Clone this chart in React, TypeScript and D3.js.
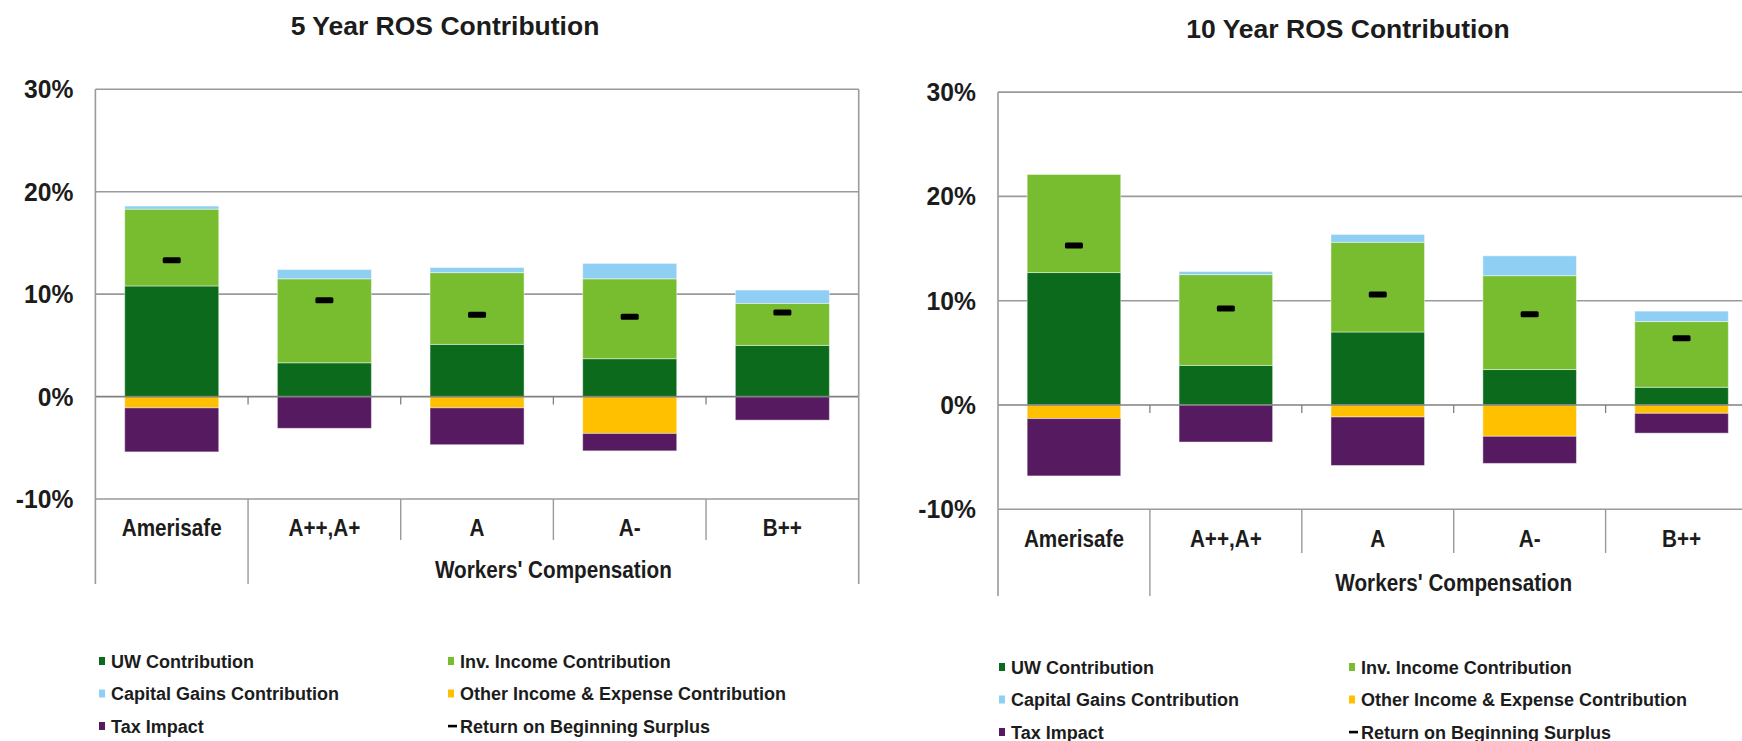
import React from "react";
import * as d3 from "d3";

const categories = ["Amerisafe", "A++,A+", "A", "A-", "B++"];

// 5 Year ROS contribution (%)
const uw5 = [10.8, 3.3, 5.1, 3.7, 5.0];
const inv5 = [7.5, 8.2, 7.0, 7.8, 4.1];
const cap5 = [0.3, 0.9, 0.5, 1.5, 1.3];
const oth5 = [-1.1, 0, -1.1, -3.6, 0];
const tax5 = [-4.3, -3.1, -3.6, -1.7, -2.3];
const ret5 = [13.3, 9.4, 8.0, 7.8, 8.2];

// 10 Year ROS contribution (%)
const uw10 = [12.7, 3.8, 7.0, 3.4, 1.7];
const inv10 = [9.4, 8.7, 8.6, 9.0, 6.3];
const cap10 = [0, 0.3, 0.75, 1.9, 1.0];
const oth10 = [-1.3, 0, -1.15, -3.0, -0.8];
const tax10 = [-5.5, -3.55, -4.65, -2.6, -1.9];
const ret10 = [15.3, 9.25, 10.6, 8.7, 6.4];

const yTicks = [-10, 0, 10, 20, 30];
const groupLabel = "Workers' Compensation";

const seriesNames = [
  "UW Contribution",
  "Inv. Income Contribution",
  "Capital Gains Contribution",
  "Other Income & Expense Contribution",
  "Tax Impact",
  "Return on Beginning Surplus",
];
const colors = {
  uw: "#0B6A1C",
  inv: "#78BC30",
  cap: "#8ECFF3",
  oth: "#FFC000",
  tax: "#551A60",
  ret: "#000000",
};

const FONT = "'Liberation Sans', Arial, sans-serif";
const TEXT = "#1c1c1c";

type ChartProps = {
  title: string;
  titleX: number;
  titleY: number;
  left: number;
  step: number;
  top: number;
  bottom: number;
  labelY: number;
  groupY: number;
  shortEnd: number;
  longEnd: number;
  uw: number[];
  inv: number[];
  cap: number[];
  oth: number[];
  tax: number[];
  ret: number[];
  legendX1: number;
  legendX2: number;
  legendY: number;
};

function Chart(p: ChartProps) {
  const right = p.left + p.step * categories.length;
  const x = d3
    .scaleBand<string>()
    .domain(categories)
    .range([p.left, right])
    .paddingInner(0.384)
    .paddingOuter(0.192);
  const y = d3.scaleLinear().domain([-10, 30]).range([p.bottom, p.top]);
  const bw = x.bandwidth();

  const segs: { key: string; x: number; y0: number; y1: number; color: string }[] = [];
  categories.forEach((c, i) => {
    const bx = x(c) as number;
    let pos = 0;
    [
      [p.uw[i], colors.uw],
      [p.inv[i], colors.inv],
      [p.cap[i], colors.cap],
    ].forEach(([v, col], k) => {
      const val = v as number;
      if (val > 0) segs.push({ key: `${c}-p${k}`, x: bx, y0: pos, y1: pos + val, color: col as string });
      pos += val;
    });
    let neg = 0;
    [
      [p.oth[i], colors.oth],
      [p.tax[i], colors.tax],
    ].forEach(([v, col], k) => {
      const val = v as number;
      if (val < 0) segs.push({ key: `${c}-n${k}`, x: bx, y0: neg, y1: neg + val, color: col as string });
      neg += val;
    });
  });

  const dividers = categories.map((_, i) => p.left + p.step * i);

  const legendItems = [
    { name: seriesNames[0], color: colors.uw, col: 0, row: 0 },
    { name: seriesNames[1], color: colors.inv, col: 1, row: 0 },
    { name: seriesNames[2], color: colors.cap, col: 0, row: 1 },
    { name: seriesNames[3], color: colors.oth, col: 1, row: 1 },
    { name: seriesNames[4], color: colors.tax, col: 0, row: 2 },
    { name: seriesNames[5], color: colors.ret, col: 1, row: 2, dash: true },
  ];

  return (
    <g>
      <text
        x={p.titleX}
        y={p.titleY}
        textAnchor="middle"
        fontFamily={FONT}
        fontWeight="bold"
        fontSize={26.5}
        fill={TEXT}
      >
        {p.title}
      </text>

      {/* gridlines */}
      {yTicks
        .filter((t) => t !== 0)
        .map((t) => (
          <line key={`g${t}`} x1={p.left} x2={right} y1={y(t)} y2={y(t)} stroke="#9a9a9a" strokeWidth={1.6} />
        ))}

      {/* y tick labels */}
      {yTicks.map((t) => (
        <text
          key={`t${t}`}
          transform={`translate(${p.left - 22},${y(t) + 9}) scale(0.95,1)`}
          textAnchor="end"
          fontFamily={FONT}
          fontWeight="bold"
          fontSize={26}
          fill={TEXT}
        >
          {`${t}%`}
        </text>
      ))}

      {/* bars */}
      {segs.map((s) => (
        <rect
          key={s.key}
          x={s.x}
          width={bw}
          y={Math.min(y(s.y0), y(s.y1))}
          height={Math.abs(y(s.y1) - y(s.y0))}
          fill={s.color}
          stroke="rgba(255,255,255,0.45)"
          strokeWidth={1}
        />
      ))}

      {/* zero line */}
      <line x1={p.left} x2={right} y1={y(0)} y2={y(0)} stroke="#808080" strokeWidth={1.6} />
      {dividers.slice(1).map((d, i) => (
        <line key={`zt${i}`} x1={d} x2={d} y1={y(0)} y2={y(0) + 8} stroke="#808080" strokeWidth={1.3} />
      ))}

      {/* return markers */}
      {categories.map((c, i) => (
        <rect
          key={`r${c}`}
          x={(x(c) as number) + bw / 2 - 9}
          y={y(p.ret[i]) - 3}
          width={18}
          height={6}
          rx={1.5}
          fill={colors.ret}
        />
      ))}

      {/* frame */}
      <line x1={p.left} x2={p.left} y1={p.top} y2={p.longEnd} stroke="#9a9a9a" strokeWidth={1.6} />
      <line x1={right} x2={right} y1={p.top} y2={p.longEnd} stroke="#9a9a9a" strokeWidth={1.6} />
      {dividers.slice(1).map((d, i) => (
        <line
          key={`dv${i}`}
          x1={d}
          x2={d}
          y1={p.bottom}
          y2={i === 0 ? p.longEnd : p.shortEnd}
          stroke="#9a9a9a"
          strokeWidth={1.4}
        />
      ))}

      {/* category labels */}
      {categories.map((c) => (
        <text
          key={`c${c}`}
          transform={`translate(${(x(c) as number) + bw / 2},${p.labelY}) scale(0.9,1)`}
          textAnchor="middle"
          fontFamily={FONT}
          fontWeight="bold"
          fontSize={23}
          fill={TEXT}
        >
          {c}
        </text>
      ))}
      <text
        transform={`translate(${(dividers[1] + right) / 2},${p.groupY}) scale(0.9,1)`}
        textAnchor="middle"
        fontFamily={FONT}
        fontWeight="bold"
        fontSize={23}
        fill={TEXT}
      >
        {groupLabel}
      </text>

      {/* legend */}
      {legendItems.map((it) => {
        const lx = it.col === 0 ? p.legendX1 : p.legendX2;
        const ly = p.legendY + it.row * 32.5;
        return (
          <g key={it.name}>
            {it.dash ? (
              <rect x={lx - 3} y={ly - 1.2} width={9} height={2.6} fill={it.color} />
            ) : (
              <rect x={lx - 3} y={ly - 4} width={6} height={8} fill={it.color} />
            )}
            <text
              x={lx + 9}
              y={ly + 6.5}
              fontFamily={FONT}
              fontWeight="bold"
              fontSize={18}
              fill={TEXT}
            >
              {it.name}
            </text>
          </g>
        );
      })}
    </g>
  );
}

export default function App() {
  return (
    <svg
      width={1742}
      height={741}
      style={{ position: "absolute", left: 0, top: 0, background: "#fff" }}
    >
      <rect x={0} y={0} width={1742} height={741} fill="#fff" />
      <Chart
        title="5 Year ROS Contribution"
        titleX={445}
        titleY={35}
        left={95.4}
        step={152.66}
        top={89.3}
        bottom={499}
        labelY={536}
        groupY={578}
        shortEnd={540}
        longEnd={584}
        uw={uw5}
        inv={inv5}
        cap={cap5}
        oth={oth5}
        tax={tax5}
        ret={ret5}
        legendX1={102}
        legendX2={451}
        legendY={661}
      />
      <Chart
        title="10 Year ROS Contribution"
        titleX={1348}
        titleY={38}
        left={998}
        step={151.9}
        top={92.1}
        bottom={509.3}
        labelY={547}
        groupY={591}
        shortEnd={553}
        longEnd={596}
        uw={uw10}
        inv={inv10}
        cap={cap10}
        oth={oth10}
        tax={tax10}
        ret={ret10}
        legendX1={1002}
        legendX2={1352}
        legendY={667}
      />
    </svg>
  );
}
